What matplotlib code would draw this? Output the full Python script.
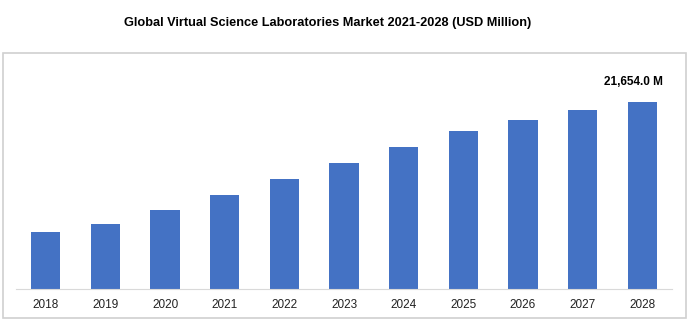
import matplotlib.pyplot as plt
from matplotlib.patches import Rectangle

plt.rcParams['font.family'] = ['Liberation Sans', 'DejaVu Sans']

years = ['2018', '2019', '2020', '2021', '2022', '2023', '2024', '2025', '2026', '2027', '2028']
market = [6600, 7530, 9150, 10890, 12740, 14590, 16440, 18300, 19570, 20730, 21654]
last_label = '21,654.0 M'

fig = plt.figure(figsize=(6.91, 3.22), dpi=100)

# light grey frame around the chart area
W, H = 691, 322
fig.patches.append(Rectangle((3 / W, 1 - 318 / H), 683 / W, 265 / H,
                             transform=fig.transFigure, fill=False,
                             edgecolor='#d0d0d0', linewidth=1.2))

fig.text(328 / W, 1 - 23 / H, 'Global Virtual Science Laboratories Market 2021-2028 (USD Million)',
         ha='center', va='center', fontsize=9.2, fontweight='bold')

ax = fig.add_axes([16 / W, 1 - 289 / H, 656 / W, 236 / H])
x = range(len(years))
ax.bar(x, market, width=0.49, color='#4472C4')
ax.set_xlim(-0.5, len(years) - 0.5)
ax.set_ylim(0, 27330)

ax.set_xticks(list(x))
ax.set_xticklabels(years, fontsize=8.5, color='#222222')
ax.tick_params(axis='x', length=0, pad=7)
ax.set_yticks([])
for side in ['top', 'right', 'left']:
    ax.spines[side].set_visible(False)
ax.spines['bottom'].set_color('#d9d9d9')

ax.annotate(last_label, (len(years) - 1, market[-1]), xytext=(-6, 10),
            textcoords='offset points', ha='center', va='bottom',
            fontsize=8.5, fontweight='bold')

fig.savefig('out.png', dpi=100)
